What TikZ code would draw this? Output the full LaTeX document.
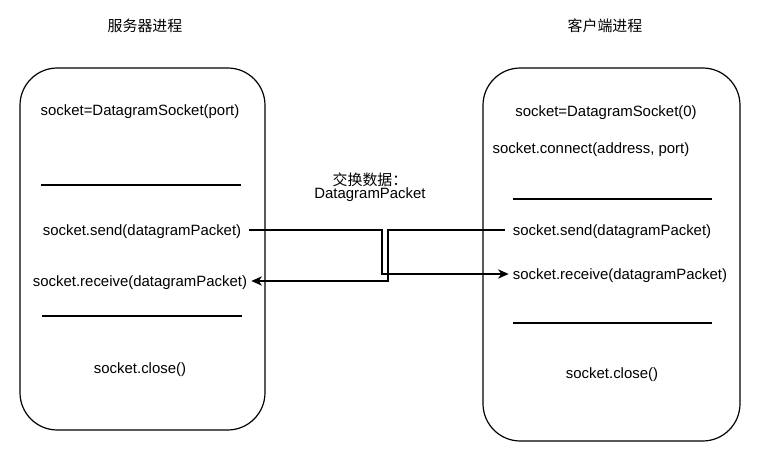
\documentclass[tikz,border=0pt]{standalone}
\usepackage{fontspec}
\setmainfont{Liberation Sans}
\newfontfamily\cjk{Noto Sans CJK SC}
\usetikzlibrary{arrows.meta}

\begin{document}
\begin{tikzpicture}[x=0.75pt,y=-0.75pt,
    font=\fontsize{11.2}{12.8}\selectfont,
    process/.style ={draw, line width=0.9pt, rounded corners=28pt},
    call/.style ={inner sep=3pt, text depth=0pt},
    divider/.style ={line width=0.8pt},
    flow/.style ={line width=0.8pt, -{Stealth[length=8pt,width=7pt,inset=2.5pt]}}]
   \useasboundingbox (0,0) rectangle (761,463);
   \node[font=\fontsize{11.2}{12.8}\cjk] (stitle) at (145,26) {服务器进程};
   \node[font=\fontsize{11.2}{12.8}\cjk] (ctitle) at (605,26) {客户端进程};
   \node[process, minimum width=183.75pt, minimum height=271.5pt] (server) at (142.5,249) {};
   \node[process, minimum width=192.75pt, minimum height=279.75pt] (client) at (611.5,254.5) {};
   \node[call] (screate) at (140,110) {socket=DatagramSocket(port)};
   \node[call] (ssend) at (142,230) {socket.send(datagramPacket)};
   \node[call] (srecv) at (140,281) {socket.receive(datagramPacket)};
   \node[call] (sclose) at (140,368) {socket.close()};
   \node[call] (ccreate) at (606,111) {socket=DatagramSocket(0)};
   \node[call] (cconnect) at (591,148) {socket.connect(address, port)};
   \node[call] (csend) at (612,230) {socket.send(datagramPacket)};
   \node[call] (crecv) at (620,274) {socket.receive(datagramPacket)};
   \node[call] (cclose) at (612,373) {socket.close()};
   \node[align=center, font=\fontsize{11.2}{12.8}\selectfont] (packet) at (370,187) {{\cjk 交换数据：}\\[-3pt]DatagramPacket};
   \draw[divider] (41,185) -- (241,185);
   \draw[divider] (42,316) -- (242,316);
   \draw[divider] (513,199) -- (712,199);
   \draw[divider] (513,323) -- (712,323);
   \coordinate (down1) at (382,0);
   \coordinate (down2) at (388,0);
   \draw[flow] ([xshift=3pt]ssend.east) -| (down1 |- crecv) -- (crecv.west);
   \draw[flow] ([xshift=-3pt]csend.west) -| (down2 |- srecv) -- (srecv.east);
 \end{tikzpicture}
\end{document}
